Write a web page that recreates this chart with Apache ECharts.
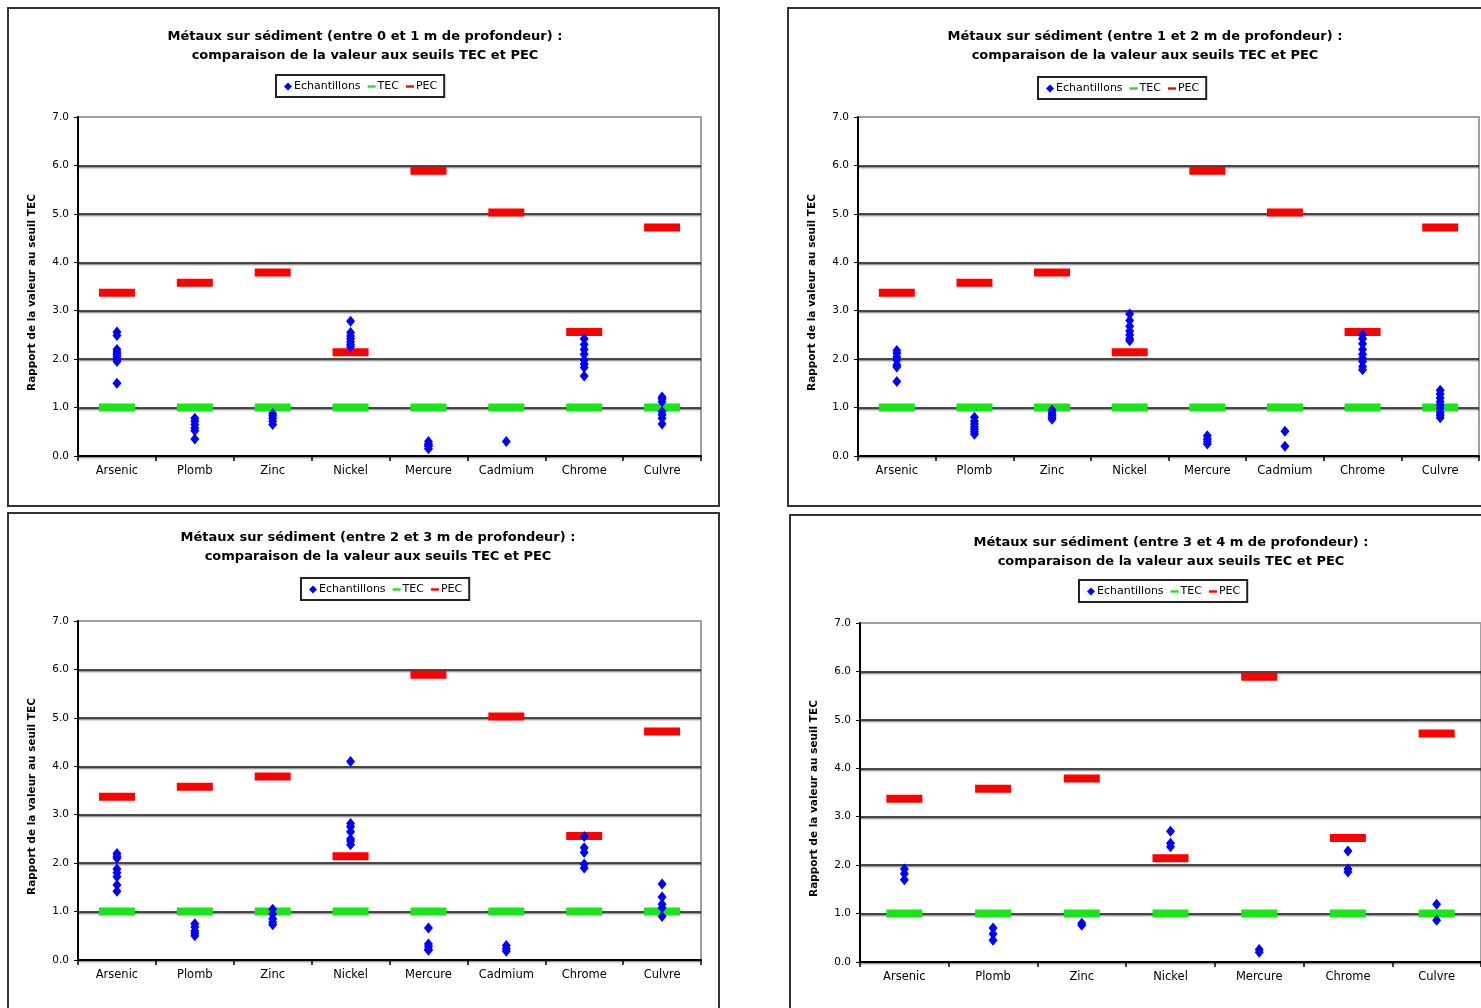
<!DOCTYPE html>
<html>
<head>
<meta charset="utf-8">
<script src="https://cdn.jsdelivr.net/npm/echarts@6/dist/echarts.min.js"></script>
<style>
html, body { margin: 0; padding: 0; background: #fff; }
#chart { width: 1481px; height: 1008px; }
</style>
</head>
<body>
<div id="chart"></div>
<script>
// categories
var metaux = ['Arsenic', 'Plomb', 'Zinc', 'Nickel', 'Mercure', 'Cadmium', 'Chrome', 'Culvre']
var metaux4 = ['Arsenic', 'Plomb', 'Zinc', 'Nickel', 'Mercure', 'Chrome', 'Culvre']

// seuils (rapport au TEC)
var tec = [1.0, 1.0, 1.0, 1.0, 1.0, 1.0, 1.0, 1.0]
var pec = [3.37, 3.58, 3.79, 2.14, 5.89, 5.03, 2.56, 4.72]
var tec4 = [1.0, 1.0, 1.0, 1.0, 1.0, 1.0, 1.0]
var pec4 = [3.37, 3.58, 3.79, 2.14, 5.89, 2.56, 4.72]

// echantillons, par metal
var ech0a1 = [
  [2.56, 2.49, 2.2, 2.15, 2.1, 2.05, 2.0, 1.95, 1.5],
  [0.78, 0.72, 0.65, 0.58, 0.52, 0.35],
  [0.88, 0.83, 0.78, 0.72, 0.65],
  [2.78, 2.55, 2.48, 2.42, 2.36, 2.3, 2.25],
  [0.3, 0.25, 0.22, 0.2, 0.15],
  [0.3],
  [2.42, 2.3, 2.2, 2.1, 1.98, 1.9, 1.83, 1.65],
  [1.22, 1.18, 1.12, 0.92, 0.85, 0.78, 0.66]
]
var ech1a2 = [
  [2.18, 2.12, 2.05, 1.98, 1.88, 1.84, 1.54],
  [0.8, 0.72, 0.66, 0.6, 0.55, 0.5, 0.45],
  [0.95, 0.9, 0.85, 0.8, 0.76],
  [2.93, 2.8, 2.68, 2.58, 2.5, 2.42, 2.38],
  [0.42, 0.35, 0.3, 0.25],
  [0.51, 0.2],
  [2.5, 2.42, 2.32, 2.2, 2.1, 2.02, 1.95, 1.85, 1.78],
  [1.36, 1.28, 1.2, 1.12, 1.05, 0.98, 0.9, 0.84, 0.79]
]
var ech2a3 = [
  [2.2, 2.14, 2.1, 1.88, 1.8, 1.72, 1.55, 1.42],
  [0.75, 0.68, 0.6, 0.55, 0.5],
  [1.05, 0.95, 0.85, 0.78, 0.73],
  [4.1, 2.82, 2.75, 2.65, 2.5, 2.45, 2.38],
  [0.66, 0.33, 0.28, 0.22, 0.2],
  [0.3, 0.24, 0.18],
  [2.55, 2.32, 2.22, 1.98, 1.9],
  [1.57, 1.3, 1.15, 1.08, 0.9]
]
var ech3a4 = [
  [1.92, 1.82, 1.7],
  [0.7, 0.58, 0.45],
  [0.8, 0.76],
  [2.7, 2.45, 2.38],
  [0.26, 0.2],
  [2.29, 1.92, 1.86],
  [1.19, 0.86]
]

var yTicks = [0, 1, 2, 3, 4, 5, 6, 7]

var titres = [
  'Métaux sur sédiment (entre 0 et 1 m de profondeur) :',
  'Métaux sur sédiment (entre 1 et 2 m de profondeur) :',
  'Métaux sur sédiment (entre 2 et 3 m de profondeur) :',
  'Métaux sur sédiment (entre 3 et 4 m de profondeur) :'
]
var sousTitre = 'comparaison de la valeur aux seuils TEC et PEC'
var nomAxe = 'Rapport de la valeur au seuil TEC'

var panels = [
  { cats: metaux, tec: tec, pec: pec, ech: ech0a1, box: [8, 8, 711, 498], grid: [78, 117, 623, 339], tx: 365, ty: 27, lg: [276, 75] },
  { cats: metaux, tec: tec, pec: pec, ech: ech1a2, box: [788, 8, 720, 498], grid: [858, 117, 621, 339], tx: 1145, ty: 27, lg: [1038, 77] },
  { cats: metaux, tec: tec, pec: pec, ech: ech2a3, box: [8, 513, 711, 520], grid: [78, 621, 623, 339], tx: 378, ty: 528, lg: [301, 578] },
  { cats: metaux4, tec: tec4, pec: pec4, ech: ech3a4, box: [790, 515, 720, 520], grid: [860, 623, 621, 339], tx: 1171, ty: 533, lg: [1079, 580] }
]

var font = '"DejaVu Sans", Verdana, sans-serif'
var dash = 'path://M0,0h10v3h-10z'

var option = {
  backgroundColor: '#fff',
  animation: false,
  title: [],
  legend: [],
  grid: [],
  xAxis: [],
  yAxis: [],
  series: [],
  graphic: []
}

panels.forEach(function (p, i) {
  option.graphic.push({
    type: 'rect',
    silent: true,
    z: -10,
    shape: { x: p.box[0], y: p.box[1], width: p.box[2], height: p.box[3] },
    style: { fill: 'none', stroke: '#333', lineWidth: 2 }
  })
  option.title.push({
    text: titres[i] + '\n' + sousTitre,
    left: p.tx,
    top: p.ty,
    textAlign: 'center',
    padding: 0,
    textStyle: { fontFamily: font, fontSize: 13, fontWeight: 'bold', color: '#000', lineHeight: 19 }
  })
  option.legend.push({
    left: p.lg[0],
    top: p.lg[1],
    orient: 'horizontal',
    borderColor: '#222',
    borderWidth: 2,
    padding: [6, 7, 5, 8],
    itemWidth: 8,
    itemHeight: 8,
    itemGap: 7,
    selectedMode: false,
    textStyle: { fontFamily: font, fontSize: 11, color: '#000', padding: [0, 0, 0, -3] },
    data: [
      { name: 'Echantillons', icon: 'diamond' },
      { name: 'TEC', icon: dash },
      { name: 'PEC', icon: dash }
    ]
  })
  option.grid.push({
    left: p.grid[0],
    top: p.grid[1],
    width: p.grid[2],
    height: p.grid[3],
    show: true,
    borderColor: '#a0a0a0',
    borderWidth: 2,
    containLabel: false
  })
  option.xAxis.push({
    type: 'category',
    gridIndex: i,
    data: p.cats,
    boundaryGap: true,
    axisLine: { lineStyle: { color: '#000', width: 2 } },
    axisTick: { show: true, interval: 0, length: 5, lineStyle: { color: '#000', width: 1.5 } },
    axisLabel: { interval: 0, margin: 9, fontFamily: font, fontSize: 11.5, color: '#000' },
    splitLine: { show: false }
  })
  option.yAxis.push({
    type: 'value',
    gridIndex: i,
    min: yTicks[0],
    max: yTicks[yTicks.length - 1],
    interval: 1,
    name: nomAxe,
    nameLocation: 'middle',
    nameRotate: 90,
    nameGap: 40,
    nameTextStyle: { fontFamily: font, fontSize: 10.5, fontWeight: 'bold', color: '#000', padding: [0, 0, 0, -12] },
    axisLine: { show: true, lineStyle: { color: '#000', width: 2 } },
    axisTick: { show: true, length: 4, lineStyle: { color: '#000' } },
    axisLabel: {
      margin: 9,
      fontFamily: font,
      fontSize: 10.5,
      color: '#000',
      formatter: function (v) { return v.toFixed(1) }
    },
    splitLine: {
      show: true,
      showMaxLine: false,
      lineStyle: { color: '#111', width: 1.5, shadowColor: 'rgba(0,0,0,0.45)', shadowOffsetY: 1.5, shadowBlur: 1 }
    }
  })

  var echData = []
  p.ech.forEach(function (vals, j) {
    vals.forEach(function (v) { echData.push([j, v]) })
  })
  option.series.push({
    name: 'TEC',
    type: 'scatter',
    xAxisIndex: i,
    yAxisIndex: i,
    symbol: 'rect',
    symbolSize: [36, 8],
    itemStyle: { color: '#18e618', opacity: 1 },
    data: p.tec.map(function (v, j) { return [j, v] }),
    z: 3
  })
  option.series.push({
    name: 'PEC',
    type: 'scatter',
    xAxisIndex: i,
    yAxisIndex: i,
    symbol: 'rect',
    symbolSize: [36, 8],
    itemStyle: { color: '#ff0000', opacity: 1 },
    data: p.pec.map(function (v, j) { return [j, v] }),
    z: 3
  })
  option.series.push({
    name: 'Echantillons',
    type: 'scatter',
    xAxisIndex: i,
    yAxisIndex: i,
    symbol: 'diamond',
    symbolSize: [9, 11],
    itemStyle: { color: '#0000ff', opacity: 1 },
    data: echData,
    z: 4
  })
})

var myChart = echarts.init(document.getElementById('chart'))
myChart.setOption(option)
window.addEventListener('resize', function () {
  myChart.resize()
})
</script>
</body>
</html>
